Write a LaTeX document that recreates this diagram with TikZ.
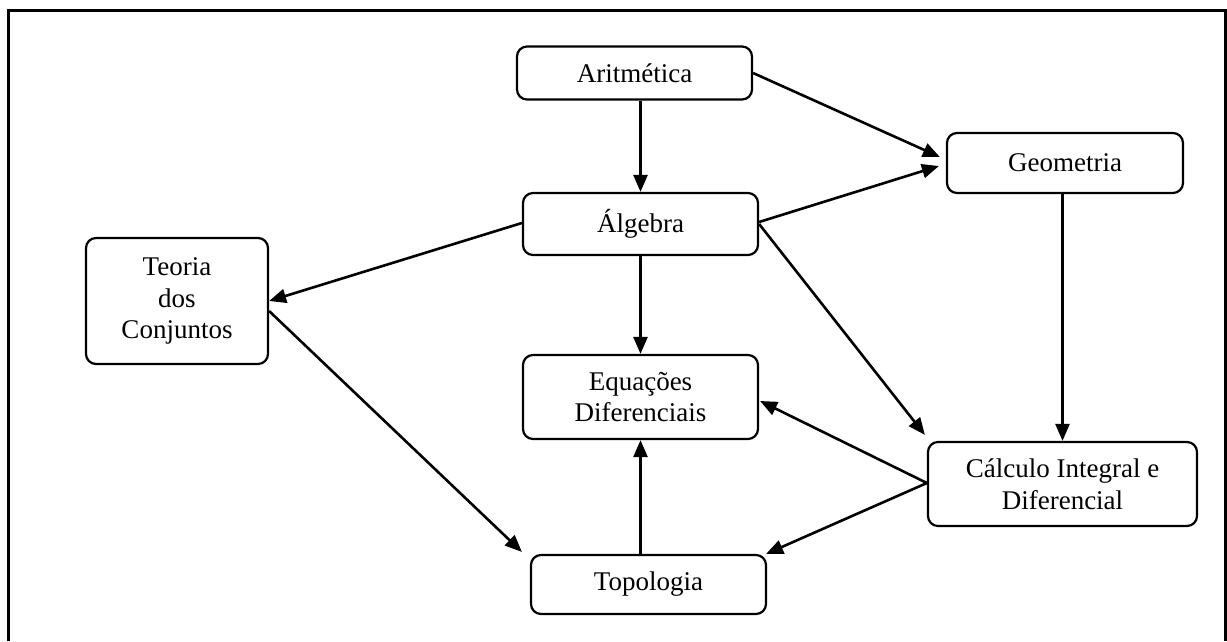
\documentclass[tikz,border=0pt]{standalone}
\usepackage{fontspec}
\setmainfont{Liberation Serif}
\usetikzlibrary{arrows.meta,calc}

\tikzset{
  topic/.style={draw, line width=2.2pt, rounded corners=10pt, align=center,
    inner sep=0pt, font=\fontsize{27}{31.5}\selectfont},
  link/.style={line width=2.6pt, -{Triangle[length=17pt,width=14pt]}},
  frame/.style={line width=3pt}
}

\begin{document}
\begin{tikzpicture}[x=1pt,y=-1pt]
  \useasboundingbox (0,0) rectangle (1227,641);

  % outer frame
  \draw[frame] (8,641) -- (8,10) -- (1225,10) -- (1225,641);

  % topics
  \node[topic, minimum width=235, minimum height=53] (arit) at (634.5,73) {Aritmética};
  \node[topic, minimum width=235, minimum height=62] (alg) at (640.5,224) {Álgebra};
  \node[topic, minimum width=236, minimum height=60] (geo) at (1065,163) {Geometria};
  \node[topic, minimum width=182, minimum height=126] (teo) at (177,301) {Teoria\\dos\\Conjuntos};
  \node[topic, minimum width=235, minimum height=84] (eq) at (640.5,397) {Equações\\Diferenciais};
  \node[topic, minimum width=269, minimum height=84] (calc) at (1062.5,484) {Cálculo Integral e\\Diferencial};
  \node[topic, minimum width=235, minimum height=59] (topo) at (648.5,584.5) {Topologia};

  % arrow ends that stop short of the boxes
  \coordinate (geoA) at ($(geo.west)+(-6,-6)$);
  \coordinate (geoB) at ($(geo.west)+(-7,3)$);
  \coordinate (calcA) at ($(calc.north west)+(-2,-6)$);
  \coordinate (topoA) at ($(topo.north west)+(-8,-2)$);
  \coordinate (topoB) at ($(topo.north east)+(-1,0)$);
  \coordinate (calcW) at ($(calc.west)+(0,-1)$);

  % links
  \draw[link] (arit.south -| alg.north) -- (alg.north);
  \draw[link] (arit.east) -- (geoA);
  \draw[link] ($(alg.east)+(0,-2)$) -- (geoB);
  \draw[link] ($(alg.west)+(0,-1)$) -- (teo.east);
  \draw[link] (alg.south) -- (eq.north);
  \draw[link] (alg.east) -- (calcA);
  \draw[link] (geo.south -| calc.north) -- (calc.north);
  \draw[link] ($(teo.east)+(0,10)$) -- (topoA);
  \draw[link] (calcW) -- ($(eq.east)+(1,4)$);
  \draw[link] (calcW) -- (topoB);
  \draw[link] (topo.north -| eq.south) -- (eq.south);
\end{tikzpicture}
\end{document}
